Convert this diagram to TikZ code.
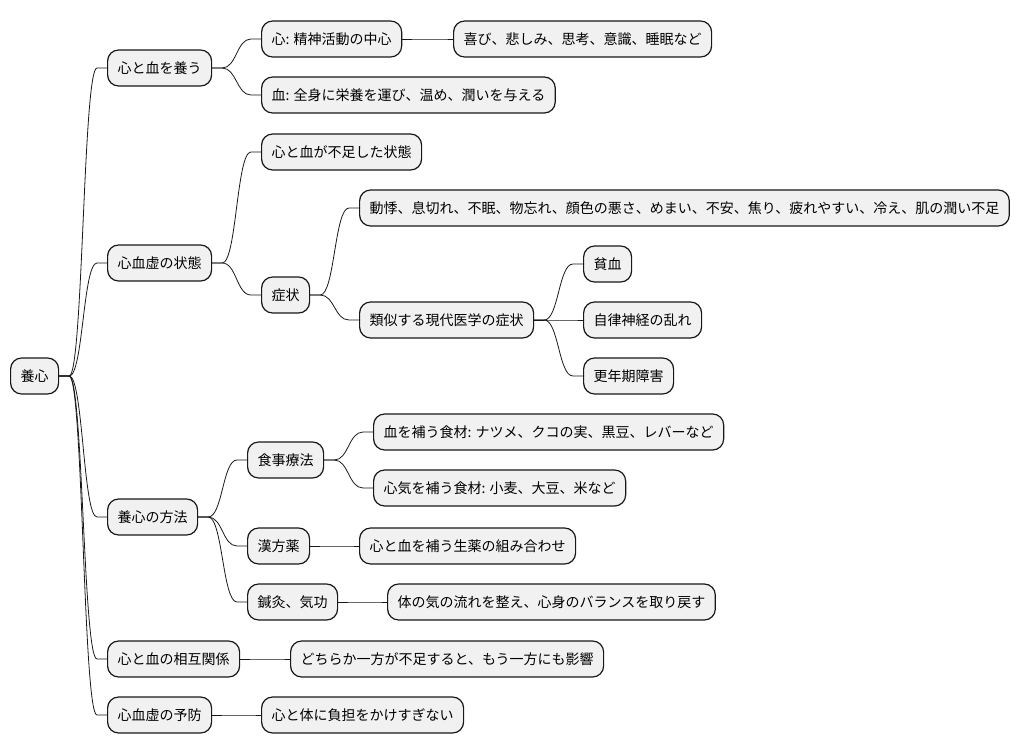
\documentclass[tikz,border=0pt]{standalone}
\usepackage{fontspec}
\usepackage{tikz}
\usetikzlibrary{calc}
\newfontfamily\jpfont{Noto Sans CJK JP}
\definecolor{BoxFill}{HTML}{F1F1F1}
\definecolor{BoxLine}{HTML}{181818}

\tikzset{
  topic/.style={draw=BoxLine, fill=BoxFill, line width=1.2pt, rounded corners=11pt,
    minimum height=36pt, inner xsep=10pt, anchor=west,
    font=\jpfont\fontsize{14}{16}\selectfont},
  link/.style={draw=BoxLine, line width=0.8pt}
}

\begin{document}
\begin{tikzpicture}[x=1pt, y=-1pt]
  \useasboundingbox (0,0) rectangle (1020,752);

  % Root
  \node[topic] (root) at (10,376) {養心};

  % First level
  \node[topic] (care)    at (107,68)  {心と血を養う};
  \node[topic] (state)   at (107,263) {心血虚の状態};
  \node[topic] (method)  at (107,517) {養心の方法};
  \node[topic] (mutual)  at (107,659) {心と血の相互関係};
  \node[topic] (prevent) at (107,715) {心血虚の予防};

  % Second level
  \node[topic] (heart)   at (261,39)  {心: 精神活動の中心};
  \node[topic] (blood)   at (261,95)  {血: 全身に栄養を運び、温め、潤いを与える};
  \node[topic] (lack)    at (261,152) {心と血が不足した状態};
  \node[topic] (symptom) at (261,295) {症状};
  \node[topic] (diet)    at (247,460) {食事療法};
  \node[topic] (herbal)  at (247,546) {漢方薬};
  \node[topic] (acu)     at (247,602) {鍼灸、気功};
  \node[topic] (either)  at (290,659) {どちらか一方が不足すると、もう一方にも影響};
  \node[topic] (burden)  at (261,715) {心と体に負担をかけすぎない};

  % Third level
  \node[topic] (emotion) at (453,39)  {喜び、悲しみ、思考、意識、睡眠など};
  \node[topic] (signs)   at (359,208) {動悸、息切れ、不眠、物忘れ、顔色の悪さ、めまい、不安、焦り、疲れやすい、冷え、肌の潤い不足};
  \node[topic] (modern)  at (359,320) {類似する現代医学の症状};
  \node[topic] (food1)   at (373,432) {血を補う食材: ナツメ、クコの実、黒豆、レバーなど};
  \node[topic] (food2)   at (373,488) {心気を補う食材: 小麦、大豆、米など};
  \node[topic] (mix)     at (359,546) {心と血を補う生薬の組み合わせ};
  \node[topic] (flow)    at (387,602) {体の気の流れを整え、心身のバランスを取り戻す};

  % Fourth level
  \node[topic] (anemia)  at (583,264) {貧血};
  \node[topic] (nerve)   at (583,320) {自律神経の乱れ};
  \node[topic] (meno)    at (583,376) {更年期障害};

  % Connectors
  \foreach \p/\c in {root/care, root/state, root/method, root/mutual, root/prevent,
      care/heart, care/blood, heart/emotion,
      state/lack, state/symptom, symptom/signs, symptom/modern,
      modern/anemia, modern/nerve, modern/meno,
      method/diet, method/herbal, method/acu,
      diet/food1, diet/food2, herbal/mix, acu/flow,
      mutual/either, prevent/burden}
    \draw[link] (\p.east) -- ++(10,0) coordinate (s)
      ([xshift=-10pt]\c.west) coordinate (t)
      ($(s)!.5!(t)$) coordinate (m)
      (s) .. controls (m |- s) and (m |- t) .. (t) -- (\c.west);
\end{tikzpicture}
\end{document}
